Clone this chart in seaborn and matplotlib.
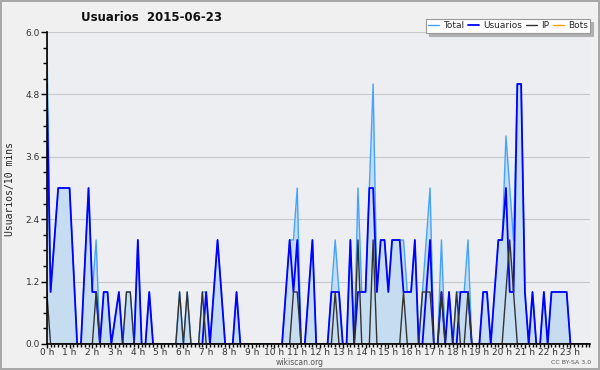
import pandas as pd
import matplotlib
matplotlib.use("Agg")
import matplotlib.pyplot as plt
import seaborn as sns
from matplotlib.ticker import MultipleLocator, FixedLocator, FormatStrFormatter

# valores cada 10 minutos (6 por hora, 144 en total)
total = [
    6, 1, 2, 3, 3, 3,        # 0 h
    3, 1.5, 0, 0, 1.5, 3,    # 1 h
    1, 2, 0, 1, 1, 0,        # 2 h
    0.5, 1, 0, 1, 1, 0,      # 3 h
    2, 0, 0, 1, 0, 0,        # 4 h
    0, 0, 0, 0, 0, 1,        # 5 h
    0, 1, 0, 0, 0, 1,        # 6 h
    1, 0, 1, 2, 1, 0,        # 7 h
    0, 0, 1, 0, 0, 0,        # 8 h
    0, 0, 0, 0, 0, 0,        # 9 h
    0, 0, 0, 1, 2, 2,        # 10 h
    3, 0, 0, 1, 2, 0,        # 11 h
    0, 0, 0, 1, 2, 1,        # 12 h
    0, 0, 2, 0, 3, 1,        # 13 h
    1, 3, 5, 1, 2, 2,        # 14 h
    1, 2, 2, 2, 2, 1,        # 15 h
    1, 2, 0, 1, 2, 3,        # 16 h
    0, 0, 2, 0, 1, 0,        # 17 h
    1, 1, 1, 2, 0, 0,        # 18 h
    0, 1, 1, 0, 1, 2,        # 19 h
    2, 4, 3, 2, 5, 5,        # 20 h
    1, 0, 1, 0, 0, 1,        # 21 h
    0, 1, 1, 1, 1, 1,        # 22 h
    0, 0, 0, 0, 0, 0,        # 23 h
]
usuarios = [
    5, 1, 2, 3, 3, 3,
    3, 1.5, 0, 0, 1.5, 3,
    1, 1, 0, 1, 1, 0,
    0.5, 1, 0, 0, 0, 0,
    2, 0, 0, 1, 0, 0,
    0, 0, 0, 0, 0, 0,
    0, 0, 0, 0, 0, 0,
    1, 0, 1, 2, 1, 0,
    0, 0, 1, 0, 0, 0,
    0, 0, 0, 0, 0, 0,
    0, 0, 0, 1, 2, 1,
    2, 0, 0, 1, 2, 0,
    0, 0, 0, 1, 1, 1,
    0, 0, 2, 0, 1, 1,
    1, 3, 3, 1, 2, 2,
    1, 2, 2, 2, 1, 1,
    1, 2, 0, 0, 1, 2,
    0, 0, 1, 0, 1, 0,
    0, 1, 1, 1, 0, 0,
    0, 1, 1, 0, 1, 2,
    2, 3, 1, 1, 5, 5,
    1, 0, 1, 0, 0, 1,
    0, 1, 1, 1, 1, 1,
    0, 0, 0, 0, 0, 0,
]
ip = [
    1, 0, 0, 0, 0, 0,
    0, 0, 0, 0, 0, 0,
    0, 1, 0, 0, 0, 0,
    0, 0, 0, 1, 1, 0,
    0, 0, 0, 0, 0, 0,
    0, 0, 0, 0, 0, 1,
    0, 1, 0, 0, 0, 1,
    0, 0, 0, 0, 0, 0,
    0, 0, 0, 0, 0, 0,
    0, 0, 0, 0, 0, 0,
    0, 0, 0, 0, 0, 1,
    1, 0, 0, 0, 0, 0,
    0, 0, 0, 0, 1, 0,
    0, 0, 0, 0, 2, 0,
    0, 0, 2, 0, 0, 0,
    0, 0, 0, 0, 1, 0,
    0, 0, 0, 1, 1, 1,
    0, 0, 1, 0, 0, 0,
    1, 0, 0, 1, 0, 0,
    0, 0, 0, 0, 0, 0,
    0, 1, 2, 1, 0, 0,
    0, 0, 0, 0, 0, 0,
    0, 0, 0, 0, 0, 0,
    0, 0, 0, 0, 0, 0,
]
bots = [0] * 144
horas = [f"{h} h" for h in range(24)]

df = pd.DataFrame({
    "slot": range(len(total)),
    "Total": total,
    "Usuarios": usuarios,
    "IP": ip,
    "Bots": bots,
})

sns.set_style("ticks")
plt.rcParams["font.family"] = ["DejaVu Sans"]

fig = plt.figure(figsize=(6, 3.7), dpi=100)
fig.patch.set_facecolor("#f0f0f0")
fig.patch.set_edgecolor("#a8a8a8")
fig.patch.set_linewidth(1.5)

ax = fig.add_axes([0.078, 0.0703, 0.905, 0.8432])
ax.set_facecolor("#eceef1")

# area del total
ax.fill_between(df["slot"], 0, df["Total"], color="#c6dcf0", lw=0, zorder=1)

colores = {"Total": "#45a3ff", "Usuarios": "#0000ff", "IP": "#333333", "Bots": "#ffa500"}
grosor = {"Total": 1.0, "Usuarios": 1.3, "IP": 1.0, "Bots": 1.0}
for serie in ["Total", "Usuarios", "IP", "Bots"]:
    sns.lineplot(data=df, x="slot", y=serie, ax=ax, color=colores[serie],
                 lw=grosor[serie], label=serie, zorder=2)

ax.set_xlim(0, 143.1)
ax.set_ylim(0, 6)
ax.set_xlabel("")
ax.set_ylabel("")

ax.xaxis.set_major_locator(FixedLocator(range(0, 144, 6)))
ax.xaxis.set_minor_locator(MultipleLocator(1))
ax.set_xticklabels(horas)
ax.yaxis.set_major_locator(MultipleLocator(1.2))
ax.yaxis.set_minor_locator(MultipleLocator(0.3))
ax.yaxis.set_major_formatter(FormatStrFormatter("%.1f"))

ax.tick_params(axis="y", which="major", labelsize=6.5, length=4, width=1,
               color="black", labelcolor="#333333", pad=1, direction="out")
ax.tick_params(axis="x", which="major", labelsize=6.5, length=3, width=1,
               color="black", labelcolor="#333333", pad=0, direction="out")
ax.tick_params(axis="x", which="minor", length=2.5, width=1, color="black")
ax.tick_params(axis="y", which="minor", length=3, width=1, color="black")

ax.grid(axis="y", which="major", color="#c8c8c8", lw=0.8)
ax.set_axisbelow(True)
for s in ["top", "right"]:
    ax.spines[s].set_visible(False)
for s in ["left", "bottom"]:
    ax.spines[s].set_color("black")
    ax.spines[s].set_linewidth(1.2)
    ax.spines[s].set_zorder(3)

leg = ax.legend(loc="upper right", bbox_to_anchor=(0.983, 0.948),
                bbox_transform=fig.transFigure, ncol=4, fontsize=6.5,
                frameon=True, fancybox=False, shadow={"color": "#b0b0b0", "alpha": 1},
                handlelength=1.2, handletextpad=0.4, columnspacing=0.5,
                borderpad=0.25, borderaxespad=0)
leg.get_frame().set_edgecolor("#999999")
leg.get_frame().set_facecolor("white")
leg.get_frame().set_linewidth(0.8)

fig.text(0.252, 0.952, "Usuarios  2015-06-23", ha="center", va="center",
         fontsize=8.5, fontweight="bold", color="#111111")
fig.text(0.017, 0.49, "Usuarios/10 mins", rotation=90, ha="center", va="center",
         fontsize=7, family="DejaVu Sans Mono", color="#222222")
fig.text(0.5, 0.019, "wikiscan.org", ha="center", va="center", fontsize=5.5,
         color="#555555")
fig.text(0.952, 0.019, "CC BY-SA 3.0", ha="center", va="center", fontsize=4.5,
         color="#555555")

fig.savefig("out.png", dpi=100, facecolor=fig.get_facecolor(),
            edgecolor=fig.get_edgecolor())
